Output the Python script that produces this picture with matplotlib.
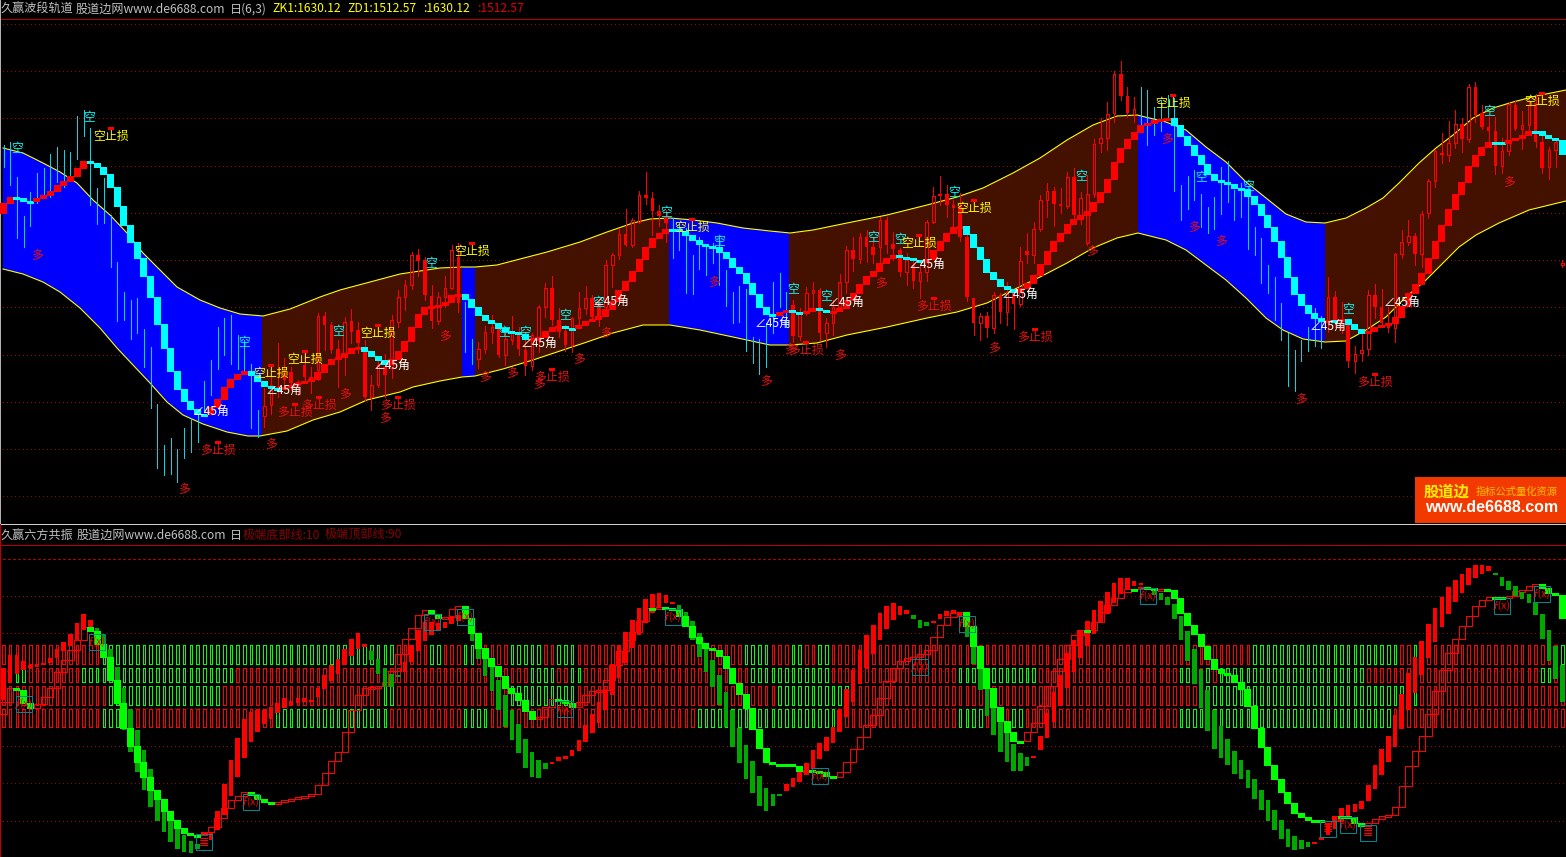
import numpy as np
import matplotlib
matplotlib.use("Agg")
import matplotlib.pyplot as plt
from matplotlib.patches import Rectangle

plt.rcParams["font.family"] = ["Noto Sans CJK SC", "DejaVu Sans"]
nan = float("nan")

# all y values (screen rows, not prices)
track_first = 213
track = [
    203, 197, 198, 201, 201, 198, 195, 191, 185, 181,
    176, 168, 161, 163, 167, 174, 187, 206, 225, 242,
    258, 276, 297, 324, 348, 371, 389, 401, 409, 414,
    414, 407, 399, 387, 379, 374, 371, 375, 381, 386,
    388, 388, 387, 385, 383, 381, 379, 372, 364, 359,
    357, 353, 348, 347, 351, 356, 360, 364, 359, 351,
    341, 327, 314, 307, 306, 305, 302, 295, 294, 299,
    307, 315, 320, 323, 328, 331, 332, 334, 339, 338,
    337, 331, 327, 326, 328, 328, 325, 321, 319, 316,
    309, 301, 290, 281, 271, 259, 247, 238, 233, 229,
    229, 231, 235, 240, 244, 246, 247, 252, 258, 267,
    273, 283, 294, 307, 314, 315, 312, 310, 312, 313,
    311, 308, 310, 312, 311, 308, 300, 293, 284, 276,
    271, 263, 258, 255, 257, 258, 260, 262, 259, 250,
    241, 233, 227, 226, 234, 247, 259, 272, 279, 286,
    289, 292, 288, 283, 275, 264, 251, 241, 233, 224,
    219, 215, 211, 202, 192, 179, 162, 148, 139, 132,
    125, 123, 120, 119, 118, 125, 136, 145, 155, 164,
    174, 180, 182, 184, 188, 189, 196, 204, 215, 227,
    241, 257, 277, 294, 305, 313, 318, 321, 320, 320,
    319, 324, 329, 333, 331, 327, 325, 323, 317, 306,
    293, 284, 273, 258, 241, 225, 209, 194, 182, 166,
    155, 147, 142, 142, 143, 140, 138, 135, 131, 131,
    135, 138, 140, 154,
]

c_high = [
    145, 142, 177, 216, 192, 173, 168, 154, 147, 150,
    152, 116, 110, 128, 188, 178, 215, 262, 292, 300,
    298, 329, 347, 404, 445, 438, 449, 428, 418, 412,
    381, 360, 327, 318, 315, 335, 340, 364, 410, 388,
    375, 343, 358, 367, 380, 352, 367, 313, 312, 322,
    340, 317, 309, 322, 340, 375, 360, 354, 315, 290,
    280, 252, 249, 257, 285, 292, 276, 245, 243, 302,
    339, 342, 326, 315, 323, 330, 316, 327, 332, 333,
    305, 283, 276, 308, 325, 317, 292, 286, 295, 300,
    260, 253, 228, 209, 218, 191, 172, 192, 205, 210,
    218, 223, 228, 255, 237, 245, 243, 237, 270, 292,
    286, 289, 337, 339, 323, 282, 273, 292, 300, 308,
    287, 282, 288, 318, 300, 274, 246, 237, 233, 230,
    237, 217, 217, 232, 248, 253, 260, 263, 220, 187,
    176, 185, 200, 193, 235, 298, 313, 312, 292, 293,
    282, 290, 247, 233, 222, 195, 183, 187, 188, 172,
    168, 192, 175, 139, 118, 102, 71, 61, 87, 97,
    87, 90, 107, 100, 95, 98, 185, 176, 170, 194,
    207, 197, 167, 161, 190, 183, 195, 227, 238, 265,
    277, 303, 333, 350, 340, 327, 308, 316, 277, 291,
    302, 323, 346, 333, 290, 284, 289, 307, 253, 230,
    220, 233, 211, 179, 150, 133, 121, 110, 118, 84,
    82, 105, 117, 117, 138, 102, 100, 111, 100, 94,
    136, 147, 138, 260,
]
c_low = [
    167, 185, 238, 247, 226, 203, 195, 197, 182, 187,
    177, 159, 136, 205, 224, 223, 267, 321, 320, 339,
    333, 367, 408, 468, 475, 474, 482, 458, 452, 442,
    412, 395, 369, 355, 364, 369, 370, 428, 437, 427,
    414, 397, 387, 390, 395, 383, 393, 380, 350, 353,
    387, 375, 343, 353, 400, 410, 387, 397, 378, 327,
    310, 289, 276, 300, 328, 324, 307, 289, 312, 352,
    364, 368, 353, 343, 357, 365, 344, 355, 375, 370,
    352, 317, 325, 337, 351, 352, 328, 314, 320, 326,
    310, 287, 259, 246, 247, 223, 204, 235, 226, 242,
    258, 250, 293, 294, 269, 275, 263, 285, 306, 323,
    322, 351, 363, 374, 367, 333, 307, 327, 342, 340,
    315, 308, 340, 347, 335, 308, 293, 271, 263, 262,
    263, 263, 253, 260, 276, 285, 288, 298, 281, 223,
    205, 217, 228, 241, 301, 335, 340, 337, 333, 323,
    325, 329, 306, 263, 263, 231, 217, 226, 213, 208,
    220, 224, 245, 197, 152, 150, 122, 100, 117, 122,
    125, 145, 135, 131, 119, 191, 220, 209, 200, 227,
    233, 229, 214, 202, 220, 217, 249, 255, 283, 293,
    320, 340, 386, 391, 361, 351, 346, 348, 332, 327,
    333, 367, 373, 361, 355, 318, 327, 332, 342, 258,
    245, 265, 267, 218, 187, 163, 161, 148, 152, 142,
    122, 129, 143, 174, 173, 155, 130, 149, 135, 147,
    173, 179, 167, 267,
]
c_open = [nan] * 39 + [
    416, 405, 387, 372, 372, 382, 365, 377, 370, 316, 325,
    349, 357, 321, 330, 352, 397, 385, 367, 368, 322,
    297, 285, 255, 260, 296, 321, 297, 288, 257,
] + [nan] * 2 + [
    359, 349, 332, 328, 355, 340, 334, 350, 366,
    340, 307, 288, 320, 331, 345, 318, 308, 298, 303,
    307, 265, 255, 234, 245, 222, 195, 198, 211, 217,
] + [nan] * 18 + [
    305, 336,
    312, 293, 290, 333, 323, 307, 282, 250, 259, 237,
    247, 247, 220, 244, 250, 272, 265, 281, 272, 222,
    194, 194, 205, 207, 237, 298, 323, 316, 328, 295,
    312, 293, 304, 251, 255, 229, 200, 191, 204, 206,
    177, 215, 243, 194, 143, 138, 113, 74, 96, 114,
] + [nan] * 28 + [
    320, 297,
    320, 325, 361, 353, 349, 295, 307, 323, 328, 254,
    242, 236, 254, 213, 181, 153, 155, 143, 124, 139,
    87, 113, 127, 131, 166, 151, 105, 129, 125, 103,
    142, 167, 150, 265,
]
c_close = [nan] * 39 + [
    406, 385, 390, 380, 383, 383, 377, 380, 316, 325, 350,
    358, 322, 332, 343, 397, 385, 365, 375, 320, 297,
    285, 255, 261, 295, 321, 297, 288, 250, 303,
] + [nan] * 2 + [
    349, 332, 327, 355, 339, 332, 349, 366, 335,
    307, 288, 320, 332, 345, 318, 308, 298, 317, 316,
    265, 255, 234, 245, 220, 195, 198, 211, 216, 223,
] + [nan] * 18 + [
    336, 312,
    293, 290, 333, 323, 307, 282, 250, 259, 237, 247,
    255, 220, 245, 249, 272, 260, 281, 272, 222, 196,
    196, 205, 208, 237, 297, 323, 316, 328, 295, 312,
    293, 304, 261, 255, 229, 200, 191, 204, 206, 177,
    215, 198, 194, 144, 138, 114, 74, 96, 113, 109,
] + [nan] * 28 + [
    297, 320,
    330, 361, 354, 350, 295, 307, 323, 328, 254, 242,
    236, 254, 214, 181, 151, 155, 143, 124, 139, 87,
    115, 127, 131, 166, 151, 104, 129, 125, 105, 142,
    168, 150, 142, 263,
]

upper_x = [3, 23, 43, 60, 77, 93, 110, 127, 143, 160, 177, 200, 220, 240, 263, 290, 320, 340, 370,
           400, 420, 440, 462, 475, 497, 520, 547, 580, 607, 633, 650, 670, 693, 717, 743, 770, 790,
           813, 847, 887, 927, 957, 983, 1013, 1040, 1067, 1093, 1117, 1137, 1166, 1186, 1206, 1226,
           1246, 1266, 1286, 1306, 1325, 1346, 1366, 1383, 1399, 1419, 1436, 1453, 1473, 1493, 1513,
           1536, 1566]
upper_y = [148, 153, 163, 172, 183, 200, 215, 233, 253, 270, 287, 300, 308, 314, 316, 309, 297, 290, 282,
           274, 271, 268, 267, 267, 265, 259, 252, 242, 232, 223, 219, 218, 220, 223, 228, 231, 233,
           230, 223, 215, 205, 197, 188, 173, 158, 140, 125, 116, 115, 122, 130, 147, 162,
           182, 198, 214, 222, 223, 218, 208, 198, 183, 163, 148, 135, 118, 108, 102,
           96, 90]
lower_x = [3, 23, 43, 60, 80, 100, 117, 133, 150, 167, 183, 203, 227, 248, 260, 287, 313, 340, 367,
           400, 413, 440, 462, 475, 503, 533, 557, 587, 613, 643, 670, 700, 733, 770, 790,
           817, 847, 887, 927, 957, 987, 1013, 1040, 1067, 1093, 1117, 1138, 1166, 1186, 1206, 1226,
           1246, 1266, 1283, 1303, 1325, 1346, 1366, 1386, 1406, 1426, 1439, 1459, 1476, 1499, 1529, 1566]
lower_y = [269, 274, 282, 292, 308, 328, 348, 365, 383, 402, 415, 424, 432, 436, 436, 431, 420, 412, 400,
           392, 387, 381, 377, 376, 369, 360, 352, 342, 333, 325, 325, 330, 337, 345, 345,
           343, 335, 327, 318, 312, 303, 290, 277, 263, 248, 238, 233, 240, 250, 265, 280,
           298, 318, 330, 339, 342, 341, 330, 317, 297, 280, 267, 247, 235, 223, 210, 201]

# regimes: start x, end x, colour of the band
regime_x0 = [0, 262, 462, 475, 669, 789, 1138, 1325]
regime_x1 = [262, 462, 475, 669, 789, 1138, 1325, 1566]
regime_down = [True, False, True, False, True, False, True, False]

kong_x = [17, 89, 244, 338, 431, 504, 525, 565, 598, 666, 719, 793, 826, 873, 900, 954, 1081, 1201, 1248, 1348, 1489]
kong_y = [149, 118, 343, 332, 264, 333, 333, 316, 303, 213, 242, 290, 297, 238, 240, 193, 177, 178, 187, 310, 112]
kong_stop_x = [111, 271, 305, 378, 472, 692, 919, 974, 1173, 1542]
kong_stop_y = [136, 373, 359, 333, 251, 227, 243, 208, 103, 101]
duo_stop_x = [218, 295, 319, 398, 552, 806, 934, 1035, 1375]
duo_stop_y = [450, 412, 405, 405, 377, 350, 306, 337, 382]
duo_x = [37, 184, 271, 345, 385, 445, 485, 512, 539, 579, 606, 714, 766, 790, 840, 881, 994, 1092, 1167, 1194, 1221, 1301, 1509]
duo_y = [256, 490, 445, 395, 419, 337, 378, 374, 385, 360, 334, 283, 382, 350, 356, 284, 349, 252, 140, 228, 242, 400, 183]
angle_x = [211, 284, 392, 539, 611, 773, 846, 927, 1020, 1328, 1402]
angle_y = [411, 390, 365, 343, 301, 323, 302, 264, 294, 326, 302]

grid_top = [24, 71, 118, 166, 213, 260, 307, 355, 402, 449, 496]
grid_bot = [596, 633, 671, 708, 746, 783, 821]

wide_first = 714
wide = [
    702, 688, 690, 703, 708, 704, 697, 688, 672, 660,
    650, 640, 627, 631, 644, 657, 680, 703, 728, 746,
    762, 777, 790, 799, 811, 820, 828, 833, 835, 835,
    832, 827, 818, 808, 800, 796, 792, 795, 799, 802,
    803, 802, 800, 799, 797, 796, 794, 785, 773, 761,
    752, 732, 710, 695, 688, 687, 686, 682, 671, 654,
    639, 628, 615, 610, 614, 618, 617, 609, 606, 618,
    633, 648, 658, 666, 676, 688, 693, 700, 711, 719,
    717, 707, 699, 700, 703, 707, 702, 695, 691, 690,
    680, 665, 651, 640, 632, 621, 608, 608, 607, 608,
    609, 616, 626, 637, 643, 648, 650, 656, 668, 683,
    694, 708, 729, 748, 762, 764, 764, 764, 766, 771,
    770, 771, 772, 776, 777, 772, 762, 749, 737, 725,
    715, 698, 681, 668, 661, 658, 657, 654, 650, 637,
    625, 617, 613, 612, 626, 646, 668, 688, 707, 721,
    732, 741, 741, 732, 723, 706, 686, 671, 659, 645,
    635, 630, 630, 622, 612, 605, 598, 592, 589, 589,
    587, 588, 590, 589, 590, 598, 613, 625, 634, 646,
    659, 669, 673, 675, 682, 689, 706, 728, 747, 765,
    779, 792, 803, 813, 817, 820, 820, 822, 821, 816,
    816, 817, 823, 826, 823, 819, 816, 815, 807, 786,
    766, 751, 736, 714, 691, 670, 653, 639, 626, 616,
    606, 600, 597, 597, 597, 596, 591, 590, 586, 584,
    588, 593, 595, 618,
]
narrow_top = [
    668, 655, 655, 661, 665, 664, 663, 658, 649, 642,
    634, 623, 614, 620, 628, 635, 649, 667, 688, 709,
    730, 750, 769, 798, 811, 820, 828, 835, 841, 844,
    832, 832, 811, 784, 760, 738, 719, 712, 710, 710,
    707, 703, 698, 701, 698, 698, 700, 688, 675, 665,
    659, 649, 639, 633, 644, 651, 659, 668, 674, 675,
    662, 645, 630, 622, 622, 623, 622, 616, 615, 610,
    633, 648, 658, 666, 680, 695, 710, 724, 739, 752,
    760, 763, 762, 757, 756, 750, 740, 725, 714, 702,
    689, 664, 645, 632, 620, 608, 599, 594, 593, 595,
    602, 605, 612, 621, 633, 648, 660, 675, 692, 710,
    728, 745, 761, 776, 788, 794, 794, 784, 778, 772,
    763, 750, 743, 737, 727, 710, 689, 670, 650, 635,
    625, 613, 606, 603, 606, 610, 615, 620, 622, 621,
    614, 611, 610, 613, 617, 646, 668, 688, 707, 721,
    732, 744, 753, 757, 756, 736, 713, 692, 675, 653,
    640, 630, 621, 610, 601, 592, 583, 578, 578, 581,
    583, 587, 589, 593, 597, 604, 616, 631, 649, 669,
    690, 710, 726, 739, 751, 760, 770, 779, 790, 800,
    810, 820, 829, 836, 840, 842, 842, 837, 823, 816,
    808, 805, 804, 801, 785, 765, 749, 736, 715, 694,
    673, 657, 641, 624, 608, 597, 587, 580, 574, 568,
    565, 565, 566, 573, 577, 581, 586, 592, 594, 602,
    614, 630, 646, 665,
]
narrow_bot = [
    700, 683, 674, 670, 668, 667, 664, 663, 658, 651,
    646, 640, 630, 627, 631, 655, 670, 690, 730, 752,
    772, 790, 807, 821, 832, 842, 849, 852, 853, 849,
    835, 840, 830, 815, 796, 777, 758, 742, 732, 724,
    719, 713, 708, 706, 703, 702, 701, 697, 689, 681,
    674, 665, 656, 649, 647, 660, 674, 687, 687, 676,
    672, 662, 651, 641, 635, 630, 628, 624, 621, 616,
    641, 659, 676, 691, 710, 727, 740, 753, 768, 777,
    778, 769, 763, 761, 759, 756, 751, 742, 733, 723,
    710, 695, 678, 663, 648, 635, 623, 613, 608, 603,
    603, 610, 617, 640, 657, 672, 687, 705, 727, 747,
    763, 779, 793, 806, 811, 806, 795, 791, 787, 782,
    775, 769, 759, 751, 743, 732, 717, 702, 684, 668,
    654, 640, 629, 620, 615, 614, 619, 628, 626, 622,
    619, 616, 613, 617, 637, 664, 690, 716, 735, 752,
    762, 771, 771, 766, 757, 750, 738, 722, 706, 688,
    672, 658, 646, 634, 623, 614, 603, 594, 590, 586,
    585, 588, 595, 600, 605, 619, 640, 661, 684, 708,
    731, 749, 758, 765, 774, 779, 788, 799, 810, 821,
    830, 839, 847, 850, 849, 847, 843, 840, 835, 829,
    822, 816, 812, 809, 801, 789, 775, 762, 747, 729,
    710, 693, 675, 658, 642, 627, 614, 602, 593, 585,
    578, 574, 571, 575, 586, 590, 596, 599, 603, 615,
    639, 661, 679, 702,
]
# run lengths, alternating red / green, starting with red
narrow_runs = [14, 16, 25, 5, 9, 13, 19, 16, 19, 3, 5, 10, 17, 25, 27, 11]
row_tops = [645, 668, 686, 709]
row_bots = [664, 682, 705, 727]
row_runs = [
    [15, 44, 5, 2, 3, 2, 5, 5, 2, 3, 25, 4, 3, 2, 2, 2, 63, 22, 2, 1, 21, 1],
    [2, 2, 8, 23, 44, 4, 2, 2, 25, 12, 19, 12, 21, 2, 2, 1, 1, 22, 26, 2, 1, 1],
    [16, 17, 24, 2, 17, 10, 30, 11, 52, 33, 22],
    [15, 4, 22, 17, 11, 4, 31, 21, 18, 4, 4, 2, 23, 4, 1, 27, 26],
]

fx_x = [16, 89, 243, 424, 457, 557, 665, 812, 912, 959, 1140, 1340, 1494, 1534]
fx_y = [696, 634, 794, 614, 609, 701, 609, 768, 659, 616, 588, 817, 598, 586]
list_x = [196, 1320, 1360]
list_y = [834, 821, 825]

n_bars = 234
bar_x = 3.5 + 6.69 * np.arange(n_bars)
PX = 72 / 100  # one screen pixel in points


def runs_to_colors(runs, red, green):
    cols = []
    for k, r in enumerate(runs):
        cols += [red if k % 2 == 0 else green] * r
    return cols


fig = plt.figure(figsize=(15.66, 8.57), dpi=100, facecolor="black")
ax1 = fig.add_axes([0, 333 / 857, 1, 524 / 857])
ax2 = fig.add_axes([0, 0, 1, 333 / 857])
for ax in (ax1, ax2):
    ax.set_facecolor("black")
    ax.set_xlim(0, 1566)
    ax.axis("off")
ax1.set_ylim(524, 0)
ax2.set_ylim(857, 524)

# ---- top panel ----
ax1.hlines(grid_top, 3, 1566, colors="#A00000", lw=PX, linestyles=(0, (1, 4)), zorder=1, antialiased=False)
ax1.hlines(19, 0, 1566, colors="#B00000", lw=PX, zorder=1, antialiased=False)

band_x = upper_x + lower_x[::-1]
band_y = upper_y + lower_y[::-1]
for x0, x1, down in zip(regime_x0, regime_x1, regime_down):
    poly = ax1.fill(band_x, band_y, color="#0000FF" if down else "#441000", lw=0, zorder=2)[0]
    poly.set_clip_path(Rectangle((x0, 0), x1 - x0, 524, transform=ax1.transData))
ax1.plot(upper_x, upper_y, color="#FFFF00", lw=0.8, zorder=3)
ax1.plot(lower_x, lower_y, color="#FFFF00", lw=0.8, zorder=3)

c_high = np.array(c_high, float)
c_low = np.array(c_low, float)
c_open = np.array(c_open, float)
c_close = np.array(c_close, float)
wick_only = np.isnan(c_open)
ax1.vlines(bar_x[wick_only], c_high[wick_only], c_low[wick_only], colors="#00D8E8", lw=PX, zorder=4, antialiased=False)
has_body = ~wick_only
body_top = np.minimum(c_open, c_close)
body_bot = np.maximum(c_open, c_close)
ax1.vlines(bar_x[has_body], c_high[has_body], body_top[has_body], colors="#FF0000", lw=PX, zorder=4, antialiased=False)
ax1.vlines(bar_x[has_body], body_bot[has_body], c_low[has_body], colors="#FF0000", lw=PX, zorder=4, antialiased=False)
hollow = has_body & (c_close < c_open)
filled = has_body & (c_close >= c_open)
ax1.bar(bar_x[filled], np.maximum(body_bot - body_top, 2)[filled], bottom=body_top[filled], width=3.6,
        color="#FF0000", lw=0, zorder=4, antialiased=False)
ax1.bar(bar_x[hollow], np.maximum(body_bot - body_top, 2)[hollow], bottom=body_top[hollow], width=2.6,
        fill=False, edgecolor="#FF0000", lw=PX, zorder=4, antialiased=False)

track = np.array(track, float)
track_open = np.r_[track_first, track[:-1]]
track_top = np.minimum(track, track_open)
track_h = np.maximum(np.abs(track - track_open), 2) + 1
track_col = ["#00FFFF" if c >= o else "#FF0000" for c, o in zip(track, track_open)]
ax1.bar(bar_x, track_h, bottom=track_top - 0.5, width=7, color=track_col, lw=0, zorder=5, antialiased=False)

fs = 8.6
for x, y in zip(kong_x, kong_y):
    ax1.text(x, y, "空", color="#00FFFF", fontsize=fs, ha="center", va="center", zorder=7)
for x, y in zip(kong_stop_x, kong_stop_y):
    ax1.text(x, y, "空止损", color="#FFFF00", fontsize=fs, ha="center", va="center", zorder=7)
    ax1.add_patch(Rectangle((x - 3, y - 9), 6, 3, color="#FF0000", lw=0, zorder=6))
for x, y in zip(duo_stop_x, duo_stop_y):
    ax1.text(x, y, "多止损", color="#E81010", fontsize=fs, ha="center", va="center", zorder=7)
    ax1.add_patch(Rectangle((x - 3, y - 9), 6, 3, color="#FF0000", lw=0, zorder=6))
for x, y in zip(duo_x, duo_y):
    ax1.text(x, y, "多", color="#E81010", fontsize=fs, ha="center", va="center", zorder=7)
for x, y in zip(angle_x, angle_y):
    ax1.text(x, y, "∠45角", color="#FFFFFF", fontsize=fs, ha="center", va="center", zorder=7)

hdr = 8.7
ax1.text(1, 9, "久赢波段轨道", color="#C0C0C0", fontsize=hdr, va="center")
ax1.text(76, 9, "股道边网www.de6688.com", color="#C0C0C0", fontsize=hdr, va="center")
ax1.text(230, 9, "日(6,3)", color="#C0C0C0", fontsize=hdr, va="center")
ax1.text(272, 9, "ZK1:1630.12", color="#FFFF00", fontsize=hdr, va="center")
ax1.text(347, 9, "ZD1:1512.57", color="#FFFF00", fontsize=hdr, va="center")
ax1.text(423, 9, ":1630.12", color="#FFFF00", fontsize=hdr, va="center")
ax1.text(477, 9, ":1512.57", color="#E00000", fontsize=hdr, va="center")

# watermark
ax1.add_patch(Rectangle((1415, 477), 151, 46, color="#F23A00", lw=0, zorder=8))
ax1.text(1446, 492, "股道边", color="#FFF000", fontsize=11, fontweight="bold", ha="center", va="center", zorder=9)
ax1.text(1517, 492, "指标公式量化资源", color="#FFC000", fontsize=7.4, ha="center", va="center", zorder=9)
ax1.text(1492, 508, "www.de6688.com", color="#FFFFFF", fontsize=11.5, fontweight="bold", family="Liberation Sans",
         ha="center", va="center", zorder=9)

# ---- bottom panel ----
ax2.hlines(524, 0, 1566, colors="#D0D0D0", lw=PX, zorder=1, antialiased=False)
ax2.hlines(545, 0, 1566, colors="#C00000", lw=PX, zorder=1, antialiased=False)
ax2.hlines(559, 3, 1566, colors="#B00000", lw=1.0, linestyles=(0, (1.5, 1.5)), zorder=1, antialiased=False)
ax2.hlines(grid_bot, 3, 1566, colors="#A00000", lw=PX, linestyles=(0, (1, 4)), zorder=1, antialiased=False)
ax2.vlines(0, 524, 857, colors="#C00000", lw=PX, zorder=1, antialiased=False)
ax1.vlines(0, 0, 524, colors="#B0B0B0", lw=PX, zorder=1, antialiased=False)

for top, bot, runs in zip(row_tops, row_bots, row_runs):
    cols = runs_to_colors(runs, "#FF0000", "#00FF00")
    ax2.bar(bar_x, bot - top, bottom=top, width=2.6, fill=False, edgecolor=cols, lw=PX, zorder=2, antialiased=False)

wide = np.array(wide, float)
wide_open = np.r_[wide_first, wide[:-1]]
wide_top = np.minimum(wide, wide_open)
wide_h = np.maximum(np.abs(wide - wide_open), 2)
falling = wide >= wide_open
ax2.bar(bar_x[~falling], wide_h[~falling], bottom=wide_top[~falling], width=6.2, fill=False,
        edgecolor="#FF0000", lw=PX, zorder=3, antialiased=False)

narrow_top = np.array(narrow_top, float)
narrow_bot = np.array(narrow_bot, float)
ax2.bar(bar_x, np.maximum(narrow_bot - narrow_top, 2), bottom=narrow_top, width=4.6,
        color=runs_to_colors(narrow_runs, "#FF0000", "#00A800"), lw=0, zorder=4, antialiased=False)
ax2.bar(bar_x[falling], wide_h[falling] + 1, bottom=wide_top[falling] - 0.5, width=7, color="#00FF00",
        lw=0, zorder=5, antialiased=False)

for x, y in zip(fx_x, fx_y):
    ax2.add_patch(Rectangle((x, y), 16, 16, fill=False, edgecolor="#008890", lw=PX, zorder=6))
    ax2.text(x + 8, y + 8, "ƒ(x)", color="#FF0000", fontsize=7.5, ha="center", va="center", zorder=7)
for x, y in zip(list_x, list_y):
    ax2.add_patch(Rectangle((x, y), 16, 16, fill=False, edgecolor="#008890", lw=PX, zorder=6))
    ax2.text(x + 8, y + 8, "≣", color="#FF0000", fontsize=9, ha="center", va="center", zorder=7)

ax2.text(1, 535, "久赢六方共振", color="#C0C0C0", fontsize=hdr, va="center")
ax2.text(77, 535, "股道边网www.de6688.com", color="#C0C0C0", fontsize=hdr, va="center")
ax2.text(230, 535, "日", color="#C0C0C0", fontsize=hdr, va="center")
ax2.text(243, 535, "极端底部线:10", color="#8C0000", fontsize=hdr, va="center")
ax2.text(325, 535, "极端顶部线:90", color="#8C0000", fontsize=hdr, va="center")

fig.savefig("out.png", dpi=100, facecolor="black")
